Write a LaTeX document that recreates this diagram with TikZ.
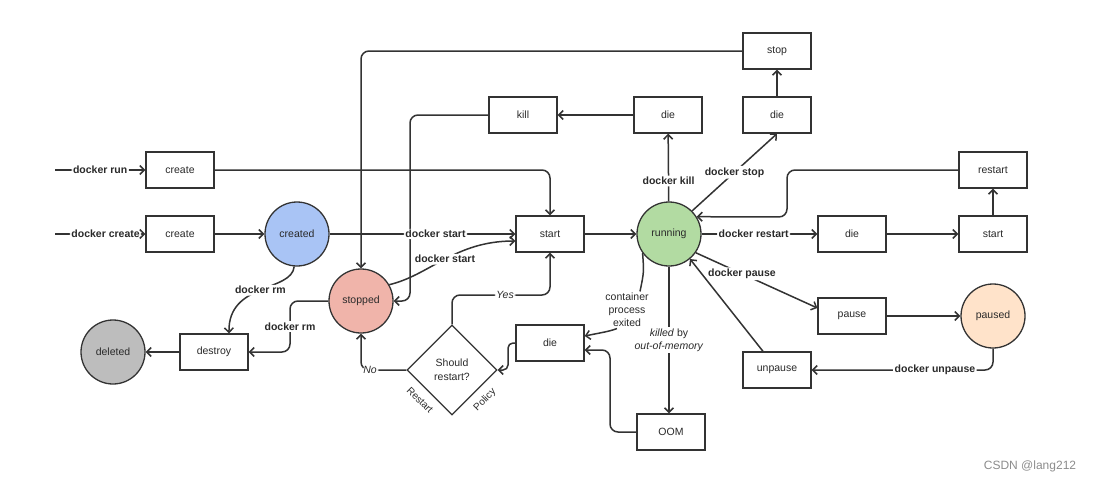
\documentclass[tikz,border=0pt]{standalone}
\usepackage{fontspec}
\setmainfont{Liberation Sans}
\usetikzlibrary{arrows.meta,shapes.geometric}
\definecolor{createdc}{HTML}{A9C4F5}
\definecolor{stoppedc}{HTML}{F0B4AA}
\definecolor{runningc}{HTML}{B2DBA2}
\definecolor{pausedc}{HTML}{FFE3CA}
\definecolor{deletedc}{HTML}{BDBDBD}
\definecolor{edgec}{HTML}{333333}
\definecolor{textc}{HTML}{2A2A2A}
\begin{document}
\begin{tikzpicture}[x=1pt,y=-1pt,
  box/.style={draw=edgec, line width=1.3pt, minimum width=68pt, minimum height=36pt,
    fill=white, text=textc, font=\fontsize{10.5}{12}\selectfont},
  state/.style={circle, draw=edgec, line width=1.3pt, minimum size=64pt, inner sep=0pt,
    text=textc, font=\fontsize{10.5}{12}\selectfont},
  lbl/.style={fill=white, text=textc, font=\bfseries\fontsize{10.5}{12}\selectfont, inner sep=1.5pt},
  ilbl/.style={fill=white, text=textc, font=\fontsize{10.5}{13}\selectfont, inner sep=1.5pt, align=center},
  conn/.style={line width=1.5pt, draw=edgec, rounded corners=8pt,
    -{Straight Barb[length=4.5pt,width=9pt]}},
  plain/.style={line width=1.5pt, draw=edgec, rounded corners=8pt}]
\useasboundingbox (0,0) rectangle (1094,482);

% nodes
\node[box] (create1) at (180,170) {create};
\node[box] (create2) at (180,234) {create};
\node[state, fill=createdc] (created) at (297,234) {created};
\node[state, fill=stoppedc] (stopped) at (361,301) {stopped};
\node[state, fill=deletedc] (deleted) at (113,352) {deleted};
\node[box] (destroy) at (214,352) {destroy};
\node[box] (start) at (550,234) {start};
\node[state, fill=runningc] (running) at (669,234) {running};
\node[box] (kill) at (523,115) {kill};
\node[box] (die1) at (668,115) {die};
\node[box] (die2) at (777,115) {die};
\node[box] (stop) at (777,51) {stop};
\node[box] (restart) at (993,170) {restart};
\node[box] (die3) at (852,234) {die};
\node[box] (start2) at (993,234) {start};
\node[box] (pause) at (852,316) {pause};
\node[state, fill=pausedc] (paused) at (993,316) {paused};
\node[box] (unpause) at (777,370) {unpause};
\node[box] (oom) at (671,432) {OOM};
\node[box] (die4) at (550,343) {die};
\node[diamond, draw=edgec, line width=1.3pt, minimum size=90pt, inner sep=0pt, fill=white,
  text=textc, align=center, font=\fontsize{10.5}{14}\selectfont] (dec) at (452,370) {Should\\restart?};
\node[text=textc, rotate=-45, inner sep=0pt, font=\fontsize{10}{12}\selectfont] (rs) at (420,400) {Restart};
\node[text=textc, rotate=45, inner sep=0pt, font=\fontsize{10}{12}\selectfont] (pol) at (485,400) {Policy};

\coordinate (runin) at (55,170);
\coordinate (crin) at (55,234);
\coordinate (k1) at (410,301);
\coordinate (r1) at (787,217);
\coordinate (o1) at (610,350);
\coordinate (d1) at (508,343);
\coordinate (d2) at (508,370);
\coordinate (y1) at (505,295);
\coordinate (s1) at (290,301);

% long background lines
\draw[conn] (stop.west) -| (stopped.north);
\draw[conn] (kill.west) -| (k1) -- (stopped.east);
\draw[conn] (create1.east) -| (start.north);

% connectors
\draw[conn] (runin) -- node[lbl]{docker run} (create1);
\draw[conn] (crin) -- node[lbl, pos=0.56]{docker create} (create2);
\draw[conn] (create2) -- (created);
\draw[conn] (created) -- node[lbl, pos=0.57]{docker start} (start);
\draw[conn] (stopped.30) .. controls (430,275) and (455,241) .. node[lbl, pos=0.5]{docker start} ([yshift=-7pt]start.west);
\draw[conn] (start) -- (running);
\draw[conn] (running) -- node[lbl, pos=0.3]{docker kill} (die1);
\draw[conn] (die1) -- (kill);
\draw[conn] (running.45) -- node[lbl]{docker stop} (die2.south);
\draw[conn] (die2) -- (stop);
\draw[conn] (running) -- node[lbl, pos=0.45]{docker restart} (die3);
\draw[conn] (die3) -- (start2);
\draw[conn] (start2) -- (restart);
\draw[conn] (restart.west) -| (r1) -- (running.32);
\draw[conn] (running.-35) -- node[lbl, pos=0.38]{docker pause} ([yshift=8pt]pause.west);
\draw[conn] (pause) -- (paused);
\draw[conn] (paused.south) |- node[lbl, pos=0.66]{docker unpause} (unpause.east);
\draw[conn] ([xshift=-14pt]unpause.north) -- (running.-50);

\node[ilbl] (cpe) at (627,310) {container\\process\\exited};
\draw[plain] (running.-144) .. controls (644,272) .. ([xshift=13pt]cpe.north);
\draw[conn] ([xshift=-10pt]cpe.south) .. controls (610,331) .. ([yshift=7pt]die4.east);

\draw[conn] (running.south) -- node[ilbl]{\textit{killed} by\\\textit{out-of-memory}} (running.south |- oom.north);
\draw[conn] (oom.west) -| (o1) -- ([yshift=-7pt]die4.east);
\draw[conn, rounded corners=5pt] (die4.west) -- (d1) -- (d2) -- (dec.east);
\draw[conn] (dec.north) |- (y1) node[ilbl]{\textit{Yes}} -| (start.south);
\draw[conn] (dec.west) -| node[ilbl, pos=0.4]{\textit{No}} (stopped.south);

\draw[conn] (created.-95) .. controls (292,292) and (228,282) .. node[lbl]{docker rm} ([xshift=15pt]destroy.north);
\draw[conn] (stopped.west) -- (s1) |- node[lbl, pos=0.25]{docker rm} (destroy.east);
\draw[conn] (destroy) -- (deleted);

\node[text=black!45, font=\fontsize{12}{14}\selectfont] (wm) at (1030,466) {CSDN @lang212};
\end{tikzpicture}
\end{document}
